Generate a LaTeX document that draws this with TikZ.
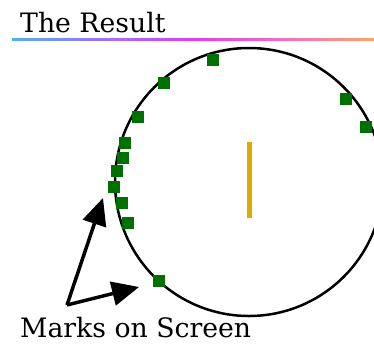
\documentclass[tikz,border=0pt]{standalone}
\usepackage{fontspec}
\setmainfont{DejaVu Serif}
\usetikzlibrary{arrows.meta}
\definecolor{gradA}{HTML}{55AEF5}
\definecolor{gradB}{HTML}{9A72FF}
\definecolor{gradC}{HTML}{E03CF5}
\definecolor{gradD}{HTML}{F56CC0}
\definecolor{gradE}{HTML}{FFA468}
\pgfdeclarehorizontalshading{titlegrad}{100bp}{
  color(0bp)=(gradA); color(25bp)=(gradA); color(37.5bp)=(gradB); color(50bp)=(gradC); color(62.5bp)=(gradD); color(75bp)=(gradE); color(100bp)=(gradE)}
\definecolor{markgreen}{HTML}{007000}
\definecolor{needle}{HTML}{E0AA00}
\begin{document}
\begin{tikzpicture}[x=1pt,y=-1pt,
  sq/.style={fill=markgreen,minimum size=12pt,inner sep=0pt,draw=none},
  lbl/.style={inner sep=0pt,font=\fontsize{26.7}{28}\selectfont},
  arr/.style={line width=3.5pt,-{Triangle[length=27pt,width=24pt]}}]
\useasboundingbox (0,0) rectangle (374,343);
\clip (0,0) rectangle (374,343);
\node[lbl,anchor=base west] (title) at (20,32) {The Result};
\shade[shading=titlegrad] (12,38) rectangle (374,40.5);
\node[draw,line width=2.5pt,circle,minimum size=268pt,inner sep=0pt] (disc) at (249,182) {};
\draw[needle,line width=5pt] (249,142) -- (249,218);
\foreach \i/\x/\y in {1/213/60,2/164/83,3/138/117,4/125/143,5/123/158,6/117/171,7/114/187,8/122/203,9/128/223,10/159/281,11/346/99,12/366/127}
  \node[sq] (m\i) at (\x,\y) {};
\coordinate (fork) at (67,305);
\coordinate (tipA) at (103,198);
\coordinate (tipB) at (139,287);
\draw[arr] (fork) -- (tipA);
\draw[arr] (fork) -- (tipB);
\node[lbl,anchor=base west] (caption) at (20,337) {Marks on Screen};
\end{tikzpicture}
\end{document}
